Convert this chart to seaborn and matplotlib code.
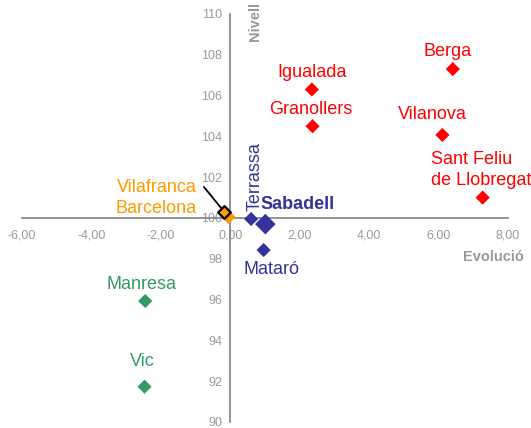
import numpy as np
import pandas as pd
import matplotlib
matplotlib.use("Agg")
import matplotlib.pyplot as plt
import seaborn as sns

# Data: evolution (x) vs level (y)
names = ["Berga", "Igualada", "Granollers", "Vilanova", "Sant Feliu\nde Llobregat",
         "Vilafranca", "Barcelona", "Terrassa", "Sabadell", "Mataró", "Manresa", "Vic"]
evolucio = [6.41, 2.35, 2.37, 6.11, 7.27, -0.05, -0.17, 0.60, 1.01, 0.96, -2.45, -2.47]
nivell = [107.3, 106.3, 104.5, 104.07, 101.0, 100.05, 100.3, 99.95, 99.7, 98.43, 95.93, 91.73]
grup = ["alt", "alt", "alt", "alt", "alt", "mig", "mig", "vallès", "vallès", "vallès",
        "baix", "baix"]

x_ticks = [-6, -4, -2, 0, 2, 4, 6, 8]
y_ticks = [90, 92, 94, 96, 98, 100, 102, 104, 106, 108, 110]

colors = {"alt": "#FF0000", "mig": "#FF9900", "vallès": "#333399", "baix": "#339966"}
grey = "#999999"

df = pd.DataFrame({"name": names, "x": evolucio, "y": nivell, "grup": grup})
df["mida"] = np.where(df["name"] == "Sabadell", "gran", "normal")

sns.set_style("white")
plt.rcParams['font.family'] = ['Liberation Sans', 'DejaVu Sans']

fig = plt.figure(figsize=(5.31, 4.28), dpi=100)
ax = fig.add_axes([22 / 531, 1 - 422 / 428, 486 / 531, 408 / 428])

plain = df[df["name"] != "Barcelona"]
sns.scatterplot(data=plain, x="x", y="y", hue="grup", palette=colors, size="mida",
                sizes={"normal": 52, "gran": 110}, marker="D", linewidth=0,
                legend=False, ax=ax, zorder=3, clip_on=False)
# Barcelona drawn with a black outline
sns.scatterplot(data=df[df["name"] == "Barcelona"], x="x", y="y", color=colors["mig"],
                marker="D", s=42, edgecolor="black", linewidth=1.6, legend=False,
                ax=ax, zorder=4, clip_on=False)

# label offsets in points
offsets = {
    "Berga": (-4, 13, "center", 0),
    "Igualada": (0, 12, "center", 0),
    "Granollers": (-1, 12, "center", 0),
    "Vilanova": (-7, 15, "center", 0),
    "Sant Feliu\nde Llobregat": (-37, 20, "left", 0),
    "Terrassa": (3, 6, "center", 90),
    "Mataró": (6, -14, "center", 0),
    "Manresa": (-3, 12, "center", 0),
    "Vic": (-1.5, 18, "center", 0),
}
for _, row in df.iterrows():
    if row["name"] not in offsets:
        continue
    dx, dy, ha, rot = offsets[row["name"]]
    ax.annotate(row["name"], (row["x"], row["y"]), xytext=(dx, dy),
                textcoords="offset points", ha=ha, va="bottom" if rot else "center",
                rotation=rot, color=colors[row["grup"]], fontsize=13,
                multialignment="left", linespacing=1.35, annotation_clip=False)

sab = df[df["name"] == "Sabadell"].iloc[0]
ax.annotate("Sabadell", (sab["x"], sab["y"]), xytext=(-3.5, 14), textcoords="offset points",
            ha="left", va="center", color=colors["vallès"], fontsize=13, fontweight="bold")

bcn = df[df["name"] == "Barcelona"].iloc[0]
ax.annotate("Vilafranca\nBarcelona", (bcn["x"], bcn["y"]), xytext=(-20, 10),
            textcoords="offset points", ha="right", va="center", color=colors["mig"],
            fontsize=13, multialignment="right", linespacing=1.3)
ax.annotate("", (bcn["x"] - 0.05, bcn["y"] + 0.1), xytext=(-13.5, 16.5),
            textcoords="offset points",
            arrowprops=dict(arrowstyle="-", color="black", lw=1.3, shrinkA=0, shrinkB=0))

ax.set_xlim(-6, 8)
ax.set_ylim(90, 110)
ax.set_xticks(x_ticks)
ax.set_yticks(y_ticks)
ax.set_xticklabels([f"{t:.2f}".replace(".", ",") for t in x_ticks])
ax.set_yticklabels([str(t) for t in y_ticks])
ax.set_xlabel("")
ax.set_ylabel("")

ax.spines["left"].set_position(("data", 0))
ax.spines["bottom"].set_position(("data", 100))
ax.spines["top"].set_visible(False)
ax.spines["right"].set_visible(False)
for s in ["left", "bottom"]:
    ax.spines[s].set_color("#808080")
    ax.spines[s].set_linewidth(1.2)
    ax.spines[s].set_zorder(1)
ax.tick_params(axis="both", colors="#808080", length=3.5, width=1, labelsize=9,
               labelcolor=grey)
ax.tick_params(axis="x", direction="out", pad=5)
ax.tick_params(axis="y", direction="out", pad=2.5)

ax.text(0.72, 110.6, "Nivell", rotation=90, ha="center", va="top", color=grey,
        fontsize=10.5, fontweight="bold", clip_on=False)
ax.text(8.45, 98.1, "Evolució", ha="right", va="center", color=grey,
        fontsize=10.5, fontweight="bold", clip_on=False)

fig.savefig("out.png", dpi=100)
